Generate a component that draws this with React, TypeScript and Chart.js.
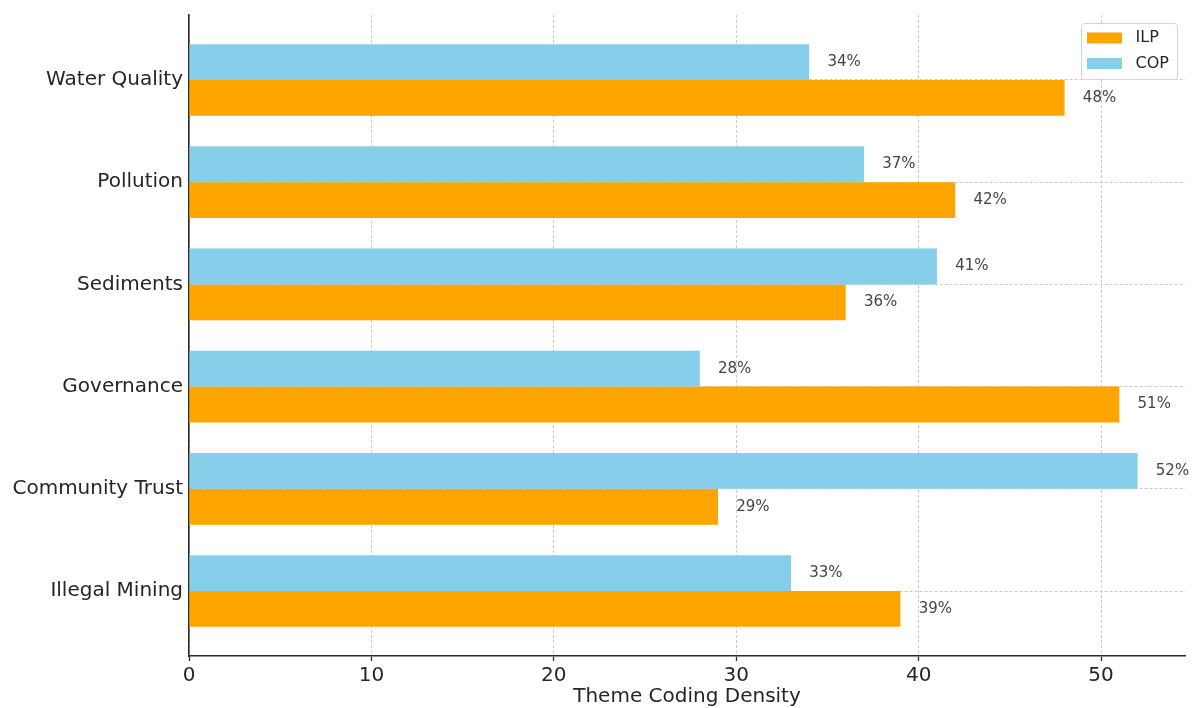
import React, { useEffect, useRef } from 'react';
import { Chart, registerables } from 'chart.js';

Chart.register(...registerables);

const categories = ['Water Quality', 'Pollution', 'Sediments', 'Governance', 'Community Trust', 'Illegal Mining'];
const ilpValues = [48, 42, 36, 51, 29, 39];
const copValues = [34, 37, 41, 28, 52, 33];
const xTickValues = [0, 10, 20, 30, 40, 50];
const seriesNames = ['ILP', 'COP'];
const xAxisTitle = 'Theme Coding Density';

const FONT = 'DejaVu Sans';
const ORANGE = '#FFA500';
const BLUE = '#87CEEB';
const TEXT = '#262626';
const SPINE = '#2b2b2b';
const GRID = 'rgba(190,190,190,0.8)';

const dataLabelPlugin = {
  id: 'dataLabels',
  afterDatasetsDraw(chart: any) {
    const ctx = chart.ctx;
    const xs = chart.scales.x;
    ctx.save();
    ctx.font = `15px "${FONT}"`;
    ctx.fillStyle = '#444444';
    ctx.textAlign = 'left';
    ctx.textBaseline = 'middle';
    chart.data.datasets.forEach((ds: any, di: number) => {
      const meta = chart.getDatasetMeta(di);
      meta.data.forEach((el: any, i: number) => {
        const v = ds.data[i].x;
        ctx.fillText(`${v}%`, xs.getPixelForValue(v + 1), el.y);
      });
    });
    ctx.restore();
  },
};

const legendPlugin = {
  id: 'boxLegend',
  afterDraw(chart: any) {
    const ctx = chart.ctx;
    const area = chart.chartArea;
    const w = 96;
    const h = 56;
    const x = area.right - w - 7.5;
    const y = area.top + 8.5;
    ctx.save();
    ctx.beginPath();
    ctx.roundRect(x, y, w, h, 3);
    ctx.fillStyle = 'rgba(255,255,255,0.9)';
    ctx.fill();
    ctx.strokeStyle = '#d4d4d4';
    ctx.lineWidth = 1;
    ctx.stroke();
    const colors = [ORANGE, BLUE];
    ctx.font = `16px "${FONT}"`;
    ctx.fillStyle = TEXT;
    ctx.textBaseline = 'middle';
    ctx.textAlign = 'left';
    seriesNames.forEach((name, i) => {
      const cy = y + 14.5 + i * 25.5;
      ctx.fillStyle = colors[i];
      ctx.fillRect(x + 5.5, cy - 5.5, 35, 11);
      ctx.fillStyle = TEXT;
      ctx.fillText(name, x + 54, cy);
    });
    ctx.restore();
  },
};

export default function App() {
  const canvasRef = useRef<HTMLCanvasElement | null>(null);

  useEffect(() => {
    if (!canvasRef.current) return;
    const chart = new Chart(canvasRef.current, {
      type: 'bar',
      data: {
        datasets: [
          {
            label: seriesNames[1],
            data: copValues.map((v, i) => ({ x: v, y: i })),
            backgroundColor: BLUE,
            borderWidth: 0,
            categoryPercentage: 0.7,
            barPercentage: 1.0,
          },
          {
            label: seriesNames[0],
            data: ilpValues.map((v, i) => ({ x: v, y: i })),
            backgroundColor: ORANGE,
            borderWidth: 0,
            categoryPercentage: 0.7,
            barPercentage: 1.0,
          },
        ],
      },
      options: {
        indexAxis: 'y',
        animation: false,
        responsive: true,
        maintainAspectRatio: false,
        events: [],
        layout: { padding: { top: 15, right: 7, left: 0, bottom: 0 } },
        plugins: {
          legend: { display: false },
          tooltip: { enabled: false },
        },
        scales: {
          x: {
            type: 'linear',
            position: 'bottom',
            min: 0,
            max: 54.6,
            afterBuildTicks: (s: any) => {
              s.ticks = xTickValues.map((v) => ({ value: v }));
            },
            afterFit: (s: any) => {
              s.height = 64;
            },
            ticks: {
              font: { family: FONT, size: 20 },
              color: TEXT,
              padding: 3,
              maxRotation: 0,
              autoSkip: false,
              callback: (v: any) => String(v),
            },
            grid: {
              color: GRID,
              lineWidth: 1,
              tickLength: 5,
              tickColor: SPINE,
              tickWidth: 1.3,
              tickBorderDash: [],
            } as any,
            border: { display: true, color: SPINE, width: 1.6, dash: [3, 2] },
            title: {
              display: true,
              text: xAxisTitle,
              font: { family: FONT, size: 20 },
              color: TEXT,
              padding: { top: 0, bottom: 11 },
            },
          },
          y: {
            type: 'linear',
            position: 'left',
            reverse: true,
            min: -0.635,
            max: 5.635,
            offset: false,
            afterBuildTicks: (s: any) => {
              s.ticks = categories.map((_, i) => ({ value: i }));
            },
            afterFit: (s: any) => {
              s.width = 189;
              s.paddingTop = 0;
              s.paddingBottom = 0;
            },
            ticks: {
              font: { family: FONT, size: 20 },
              color: TEXT,
              padding: 6,
              autoSkip: false,
              callback: (v: any) => categories[Math.round(Number(v))] ?? '',
            },
            grid: {
              offset: false,
              color: GRID,
              lineWidth: 1,
              drawTicks: false,
            },
            border: { display: true, color: SPINE, width: 1.6, dash: [3, 2] },
          },
        },
      } as any,
      plugins: [dataLabelPlugin, legendPlugin],
    });
    return () => chart.destroy();
  }, []);

  return (
    <div style={{ position: 'absolute', left: 0, top: 0, width: 1192, height: 708, overflow: 'hidden', background: '#ffffff' }}>
      <div style={{ position: 'relative', width: 1192, height: 720 }}>
        <canvas ref={canvasRef} />
      </div>
    </div>
  );
}
